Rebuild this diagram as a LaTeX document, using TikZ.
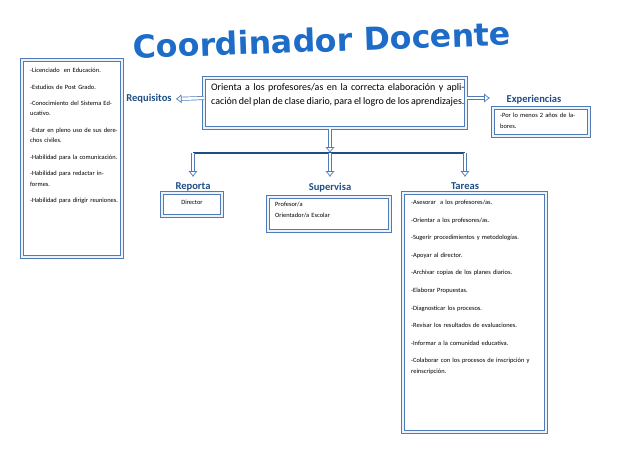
\documentclass[tikz,border=0pt]{standalone}
\usepackage{fontspec}
\setmainfont{Carlito}
\newfontfamily\titlefont{DejaVu Sans}
\usepackage{tikz}
\usetikzlibrary{arrows.meta}
\definecolor{boxblue}{HTML}{4F7BB8}
\definecolor{headblue}{HTML}{1F4E87}
\definecolor{titleblue}{HTML}{1C6CC8}
\tikzset{
  dbox/.style={draw=boxblue, line width=1.1pt, double=white!90!boxblue, double distance=0.9pt, fill=white},
  head/.style={font=\bfseries\small, text=headblue},
  harrow/.style={draw=boxblue, line width=0.6pt, double=white, double distance=2.2pt, -{Latex[open,length=5pt,width=8pt]}},
  txt/.style={font=\fontsize{5.5}{9}\selectfont, align=left, anchor=north west}
}
\begin{document}
\begin{tikzpicture}[x=0.03cm,y=-0.03cm]
    \useasboundingbox (0,0) rectangle (638,452);
    % title
    \node[](title) at (322,40){\titlefont\bfseries\fontsize{27}{27}\selectfont\color{titleblue}\rotatebox{2}{Coordinador Docente}};
    % requirements box
    \draw[dbox] (22,60) rectangle (122,257);
    \begin{scope}
      \clip (25,63) rectangle (119,254);
      \node[txt, text width=2.7cm](req) at (26,64){-Licenciado\ \ en Educación.\\[5pt]
        -Estudios de Post Grado.\\[5pt]
        -Conocimiento del Sistema Educativo.\\[5pt]
        -Estar en pleno uso de sus derechos civiles.\\[5pt]
        -Habilidad para la comunicación.\\[5pt]
        -Habilidad para redactar informes.\\[5pt]
        -Habilidad para dirigir reuniones.};
    \end{scope}
    % central box
    \draw[dbox] (204,78) rectangle (466,128);
    \node[font=\fontsize{8.5}{12.5}\selectfont, text width=7.6cm, align=justify, anchor=north west](main) at (207,79){Orienta a los profesores/as en la correcta elaboración y aplicación del plan de clase diario, para el logro de los aprendizajes.};
    \coordinate (mainL) at (204,98);
    \coordinate (mainR) at (467,98);
    \coordinate (mainB) at (330,129);
    % Requisitos
    \node[head](requisitos) at (149,99){Requisitos};
    \draw[harrow] (mainL) -- (requisitos.east);
    % Experiencias
    \node[head](experiencias) at (534,100){Experiencias};
    \draw[harrow] (mainR) -- ++(23,0);
    \draw[dbox] (493,108) rectangle (589,136);
    \node[txt, text width=2.65cm](exp) at (496,109){-Por lo menos 2 años de labores.};
    % branches
    \coordinate (bar) at (330,153);
    \coordinate (barL) at (193,153);
    \coordinate (barR) at (465,153);
    \draw[harrow] (mainB) -- (bar);
    \draw[headblue, line width=1.2pt] (barL) -- (barR);
    \node[head](reporta) at (193,187){Reporta};
    \node[head](supervisa) at (330,188){Supervisa};
    \node[head](tareas) at (465,186){Tareas};
    \draw[harrow] (barL) -- ++(0,24);
    \draw[harrow] (bar) -- ++(0,24);
    \draw[harrow] (barR) -- ++(0,24);
    % Reporta box
    \draw[dbox] (162,193) rectangle (222,216);
    \node[font=\fontsize{5.5}{9}\selectfont](director) at (192,202){Director};
    % Supervisa box
    \draw[dbox] (268,197) rectangle (390,231);
    \node[txt, text width=3.4cm](sup) at (271,198){Profesor/a\\Orientador/a Escolar};
    % Tareas box
    \draw[dbox] (403,193) rectangle (546,432);
    \node[txt, text width=3.95cm](tar) at (407,196){-Asesorar\ \ a los profesores/as.\\[6pt]
      -Orientar a los profesores/as.\\[6pt]
      -Sugerir procedimientos y metodologías.\\[6pt]
      -Apoyar al director.\\[6pt]
      -Archivar copias de los planes diarios.\\[6pt]
      -Elaborar Propuestas.\\[6pt]
      -Diagnosticar los procesos.\\[6pt]
      -Revisar los resultados de evaluaciones.\\[6pt]
      -Informar a la comunidad educativa.\\[6pt]
      -Colaborar con los procesos de inscripción y reinscripción.};
\end{tikzpicture}
\end{document}
